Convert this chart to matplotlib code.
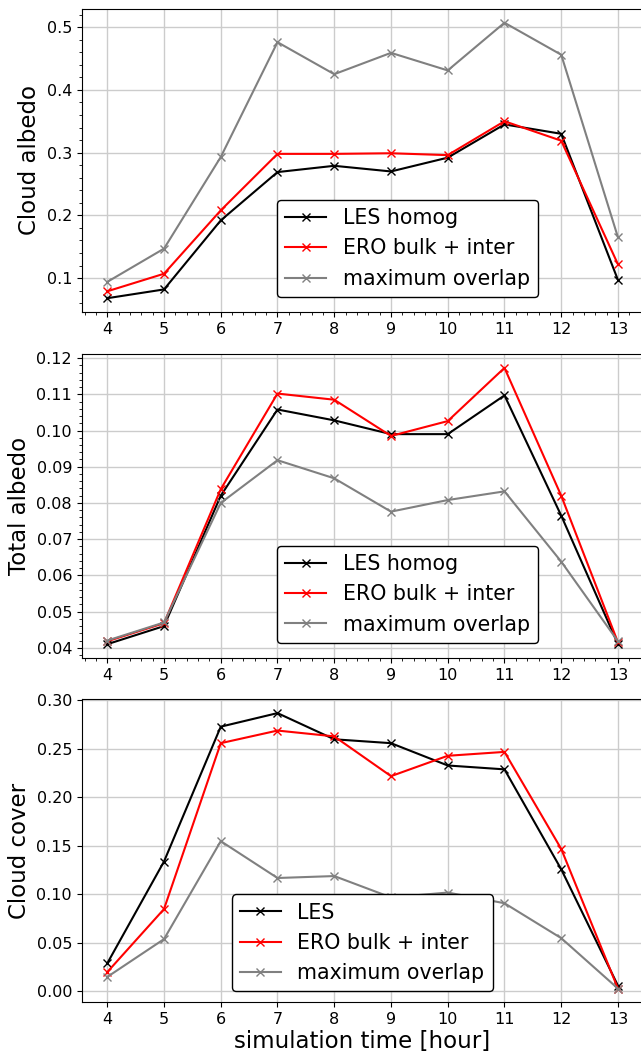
"""Cloud albedo, total albedo and cloud cover versus simulation time."""

import matplotlib
matplotlib.use("Agg")
import matplotlib.pyplot as plt

hours = [4, 5, 6, 7, 8, 9, 10, 11, 12, 13]

# cloud albedo
alb_les = [0.068, 0.082, 0.192, 0.269, 0.279, 0.270, 0.292, 0.345, 0.330, 0.097]
alb_ero = [0.079, 0.107, 0.208, 0.298, 0.298, 0.299, 0.296, 0.350, 0.319, 0.122]
alb_max = [0.094, 0.147, 0.293, 0.476, 0.425, 0.459, 0.431, 0.507, 0.456, 0.165]

# total albedo
tot_les = [0.0410, 0.0460, 0.0820, 0.1058, 0.1028, 0.0990, 0.0990, 0.1097, 0.0765, 0.0410]
tot_ero = [0.0418, 0.0468, 0.0838, 0.1102, 0.1085, 0.0985, 0.1026, 0.1173, 0.0820, 0.0415]
tot_max = [0.0420, 0.0470, 0.0800, 0.0918, 0.0868, 0.0776, 0.0808, 0.0832, 0.0638, 0.0418]

# cloud cover
cc_les = [0.029, 0.134, 0.273, 0.287, 0.260, 0.256, 0.233, 0.229, 0.126, 0.006]
cc_ero = [0.020, 0.085, 0.256, 0.269, 0.263, 0.222, 0.243, 0.247, 0.147, 0.003]
cc_max = [0.015, 0.054, 0.155, 0.117, 0.119, 0.097, 0.102, 0.091, 0.055, 0.003]


def draw_panel(ax, les, ero, mx, les_label, ylabel, legend_anchor, minor=True):
    ax.plot(hours, les, color="black", marker="x", label=les_label)
    ax.plot(hours, ero, color="red", marker="x", label="ERO bulk + inter")
    ax.plot(hours, mx, color="grey", marker="x", label="maximum overlap")
    ax.set_xticks(hours)
    ax.set_ylabel(ylabel, fontsize=16.5)
    ax.tick_params(labelsize=11.5)
    if minor:
        ax.minorticks_on()
    ax.grid(True, which="major", color="#cccccc", linewidth=1)
    leg = ax.legend(loc="lower left", bbox_to_anchor=legend_anchor, borderaxespad=0,
                    fontsize=14.8, framealpha=1, fancybox=True)
    leg.get_frame().set_edgecolor("black")


fig = plt.figure(figsize=(6.41, 10.54), dpi=100)
ax1 = fig.add_axes([0.1275, 0.7040, 0.8764, 0.2875])
ax2 = fig.add_axes([0.1275, 0.3757, 0.8764, 0.2884])
ax3 = fig.add_axes([0.1275, 0.0490, 0.8764, 0.2875])

draw_panel(ax1, alb_les, alb_ero, alb_max, "LES homog", "Cloud albedo", (0.3476, 0.0495))
draw_panel(ax2, tot_les, tot_ero, tot_max, "LES homog", "Total albedo", (0.3476, 0.050))
draw_panel(ax3, cc_les, cc_ero, cc_max, "LES", "Cloud cover", (0.267, 0.036), minor=False)
ax3.set_xlabel("simulation time [hour]", fontsize=16.5, labelpad=2)

fig.savefig("out.png", dpi=100)
